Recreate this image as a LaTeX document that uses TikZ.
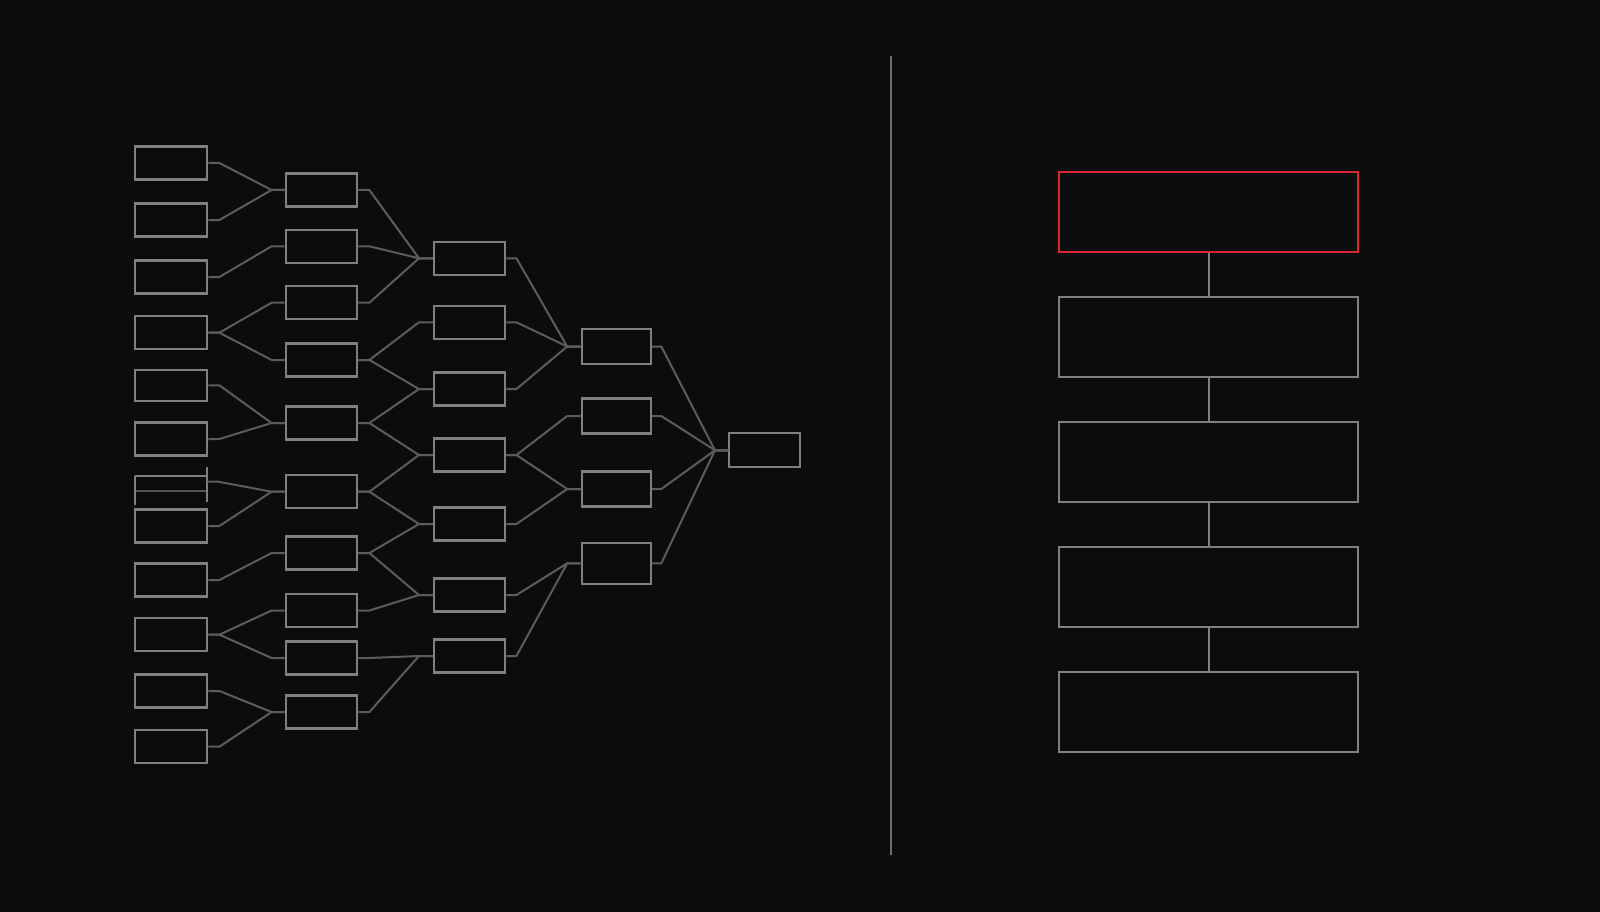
\documentclass[tikz,border=0pt]{standalone}
\usetikzlibrary{calc}
\definecolor{bg}{HTML}{0B0C0E}
\definecolor{boxgray}{HTML}{808080}
\definecolor{conngray}{HTML}{5C5C5C}
\definecolor{divgray}{HTML}{6E6E6E}
\definecolor{redbox}{HTML}{D9282D}
\begin{document}
\begin{tikzpicture}[x=1pt,y=-1pt,
  bx/.style={draw=boxgray,line width=2.2pt,fill=bg,rectangle,inner sep=0pt,minimum width=72.6pt,minimum height=33pt},
  bxa/.style={bx,minimum width=71.6pt},
  bxb/.style={bx,minimum width=71.3pt},
  bxc/.style={bx,minimum width=69pt,minimum height=35pt},
  bxd/.style={bx,minimum width=70.7pt,minimum height=34pt},
  big/.style={draw=boxgray,line width=2.2pt,fill=bg,rectangle,inner sep=0pt,minimum width=299pt,minimum height=80pt},
  conn/.style={draw=conngray,line width=2pt,line join=round},
  vconn/.style={draw=boxgray,line width=2.2pt}]
\fill[bg] (0,0) rectangle (1600,912);
\useasboundingbox (0,0) rectangle (1600,912);
% column 1
\node[bx] (a1) at (171,163) {};
\node[bx] (a2) at (171,220) {};
\node[bx] (a3) at (171,277) {};
\node[bx] (a4) at (171,332.7) {};
\node[bx,minimum height=31pt] (a5) at (171,385.3) {};
\node[bx] (a6) at (171,439) {};
\node[bx] (a8) at (171,526) {};
\node[bx] (a9) at (171,580) {};
\node[bx] (a10) at (171,634.7) {};
\node[bx] (a11) at (171,691) {};
\node[bx] (a12) at (171,746.7) {};
% glitched box
\draw[boxgray,line width=2pt] (134.7,476) -- (207.3,476);
\draw[boxgray!60!bg,line width=1.6pt] (134.7,491) -- (207.3,491);
\draw[boxgray,line width=2pt] (134.7,476) -- (134.7,505);
\draw[boxgray,line width=2pt] (207.3,467) -- (207.3,502);
\coordinate (a7) at (207.3,481.7);
% column 2
\node[bxa] (b1) at (321.5,190) {};
\node[bxa] (b2) at (321.5,246.3) {};
\node[bxa] (b3) at (321.5,302.7) {};
\node[bxa] (b4) at (321.5,360) {};
\node[bxa] (b5) at (321.5,423) {};
\node[bxa] (b6) at (321.5,491.7) {};
\node[bxa] (b7) at (321.5,553) {};
\node[bxa] (b8) at (321.5,610.5) {};
\node[bxa] (b9) at (321.5,658) {};
\node[bxa] (b10) at (321.5,712) {};
% column 3
\node[bxb] (c1) at (469.7,258.3) {};
\node[bxb] (c2) at (469.7,322.3) {};
\node[bxb] (c3) at (469.7,389) {};
\node[bxb] (c4) at (469.7,455) {};
\node[bxb] (c5) at (469.7,524) {};
\node[bxb] (c6) at (469.7,595) {};
\node[bxb] (c7) at (469.7,656) {};
% column 4
\node[bxc] (d1) at (616.2,346.5) {};
\node[bxc] (d2) at (616.2,416) {};
\node[bxc] (d3) at (616.2,489) {};
\node[bxc,minimum height=41.3pt] (d4) at (616.2,563.3) {};
% column 5
\node[bxd] (e1) at (764.7,450.3) {};
% connectors col1 -> col2
\foreach \s/\t in {a1/b1,a2/b1,a3/b2,a4/b3,a4/b4,a5/b5,a6/b5,a8/b6,a9/b7,a10/b8,a10/b9,a11/b10,a12/b10}
  \draw[conn] (\s.east) -- ++(11,0) -- ([xshift=-13pt]\t.west) -- (\t.west);
\draw[conn] (a7) -- ++(11,0) -- ([xshift=-13pt]b6.west) -- (b6.west);
% col2 -> col3
\foreach \s/\t in {b1/c1,b2/c1,b3/c1,b4/c2,b4/c3,b5/c3,b5/c4,b6/c4,b6/c5,b7/c5,b7/c6,b8/c6,b9/c7,b10/c7}
  \draw[conn] (\s.east) -- ++(11,0) -- ([xshift=-14pt]\t.west) -- (\t.west);
% col3 -> col4
\foreach \s/\t in {c1/d1,c2/d1,c3/d1,c4/d2,c4/d3,c5/d3,c6/d4,c7/d4}
  \draw[conn] (\s.east) -- ++(10,0) -- ([xshift=-13.4pt]\t.west) -- (\t.west);
% col4 -> col5
\foreach \s in {d1,d2,d3,d4}
  \draw[conn] (\s.east) -- ++(9.5,0) -- ([xshift=-13.3pt]e1.west) -- (e1.west);
% divider
\coordinate (dtop) at (890.8,56);
\coordinate (dbot) at (890.8,855);
\draw[divgray,line width=2.2pt] (dtop) -- (dbot);
% right column
\node[big,draw=redbox] (r1) at (1208.8,211.7) {};
\node[big] (r2) at (1208.8,336.7) {};
\node[big] (r3) at (1208.8,461.7) {};
\node[big] (r4) at (1208.8,586.7) {};
\node[big] (r5) at (1208.8,711.7) {};
\foreach \s/\t in {r1/r2,r2/r3,r3/r4,r4/r5}
  \draw[vconn] (\s.south) -- (\t.north);
\end{tikzpicture}
\end{document}
